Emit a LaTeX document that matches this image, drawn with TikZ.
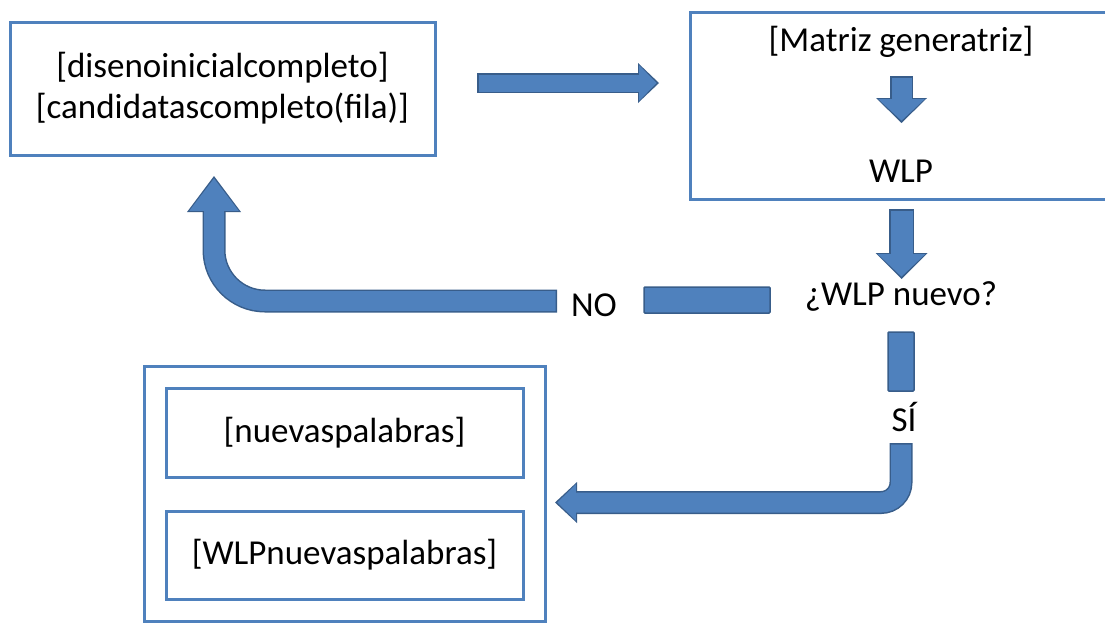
\documentclass[tikz,border=0pt]{standalone}
\usepackage{fontspec}
\setmainfont{Carlito}
\usetikzlibrary{positioning, arrows.meta, fit}
\definecolor{boxBlue}{HTML}{4F81BD}
\definecolor{arrowEdgeBlue}{HTML}{385D8A}
\tikzset{
	box/.style={
		draw=boxBlue,
		line width=3pt,
		align=center,
		inner sep=0pt,
		font=\fontsize{35}{41}\selectfont
	},
	caption/.style={
		font=\fontsize{35}{41}\selectfont,
		inner sep=0pt
	},
	bar/.style={
		draw=arrowEdgeBlue,
		fill=boxBlue,
		line width=1.5pt,
		rounded corners=1pt,
		inner sep=0pt
	},
	arrowEdge/.style={
		draw=arrowEdgeBlue,
		line join=miter
	},
	arrowBody/.style={
		draw=boxBlue,
		line join=miter,
		shorten <=1.5pt,
		shorten >=2.4pt
	},
}
% block arrow: shaft, head width, head length, path
\newcommand{\blockArrow}[4]{%
	\pgfmathsetmacro\bodyShaft{#1-3}%
	\pgfmathsetmacro\bodyWidth{#2-4.5}%
	\pgfmathsetmacro\bodyLength{#3-3.5}%
	\draw [arrowEdge, line width=#1pt, -{Triangle[width=#2pt, length=#3pt, line width=0pt]}] #4;
	\draw [arrowBody, line width=\bodyShaft pt, -{Triangle[width=\bodyWidth pt, length=\bodyLength pt, line width=0pt]}] #4;
}

\begin{document}
\begin{tikzpicture}[x=1pt, y=-1pt]
	\useasboundingbox (0,0) rectangle (1105,622);

	% start design
	\node [box, minimum width=425pt, minimum height=133pt] (designBox) at (222.5,88.5)
		{{[disenoinicialcompleto]}\\{[candidatascompleto(fila)]}};

	% generator matrix and WLP
	\node [box, minimum width=422pt, minimum height=187pt] (generatorBox) at (901,105.5) {};
	\node [caption] (matrixText) at (901,42) {[Matriz generatriz]};
	\node [caption] (wlpText) at (901,171) {WLP};

	% decision
	\node [caption] (questionText) at (901,296) {¿WLP nuevo?};
	\node [caption] (noLabel) at (594,305) {NO};
	\node [caption] (siLabel) at (904,417) {SÍ};
	\node [bar, minimum width=126pt, minimum height=26pt] (noBar) at (707,300) {};
	\node [bar, minimum width=26pt, minimum height=59pt] (siBar) at (901,361.5) {};

	% new words
	\node [box, minimum width=357pt, minimum height=89pt] (nuevasBox) at (344.5,432.5) {[nuevaspalabras]};
	\node [box, minimum width=357pt, minimum height=88pt] (wlpNuevasBox) at (344.5,555) {[WLPnuevaspalabras]};
	\node [box, inner sep=20.5pt, fit=(nuevasBox) (wlpNuevasBox)] (resultBox) {};

	% arrow ends
	\coordinate (rightStart) at (477,83);
	\coordinate (rightEnd) at (659,83);
	\coordinate (innerStart) at (901.5,76);
	\coordinate (innerEnd) at (901.5,123);
	\coordinate (downStart) at (901.5,209);
	\coordinate (downEnd) at (901.5,279);
	\coordinate (noStart) at (557,301);
	\coordinate (noEnd) at (214,176);
	\coordinate (siStart) at (901,443);
	\coordinate (siEnd) at (555,502.5);

	% block arrows
	\blockArrow{20}{40}{21}{(rightStart) -- (rightEnd)}
	\blockArrow{23}{51}{25}{(innerStart) -- (innerEnd)}
	\blockArrow{25}{52}{26}{(downStart) -- (downEnd)}
	\blockArrow{23}{54}{36}{[rounded corners=51pt] (noStart) -- (noStart -| noEnd) -- (noEnd)}
	\blockArrow{23}{41}{22}{[rounded corners=20pt] (siStart) -- (siStart |- siEnd) -- (siEnd)}
\end{tikzpicture}
\end{document}
